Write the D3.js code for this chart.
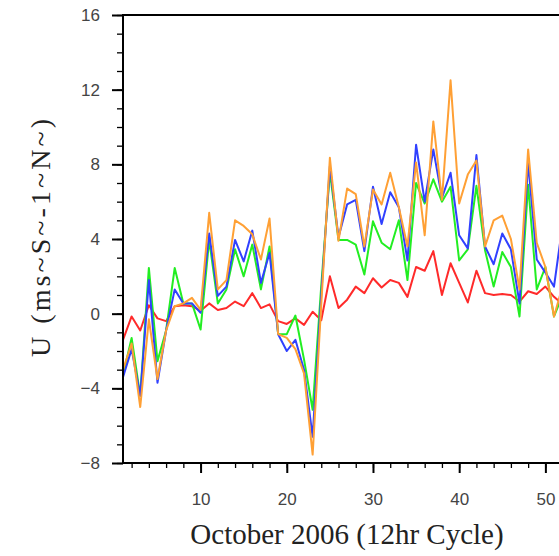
<!DOCTYPE html>
<html>
<head>
<meta charset="utf-8">
<script src="https://cdn.jsdelivr.net/npm/d3@7"></script>
<style>
  body { margin: 0; background: #fff; }
  .tick text { font-family: "Liberation Sans", Arial, sans-serif; fill: #444; }
</style>
</head>
<body>
<div id="chart"></div>
<script>
// time step (12hr cycle index)
var steps = d3.range(1, 53);

var redU = [-1.4, -0.15, -0.9, 0.45, -0.25, -0.4, 0.4, 0.45, 0.4, 0.15,
  0.55, 0.2, 0.3, 0.65, 0.4, 1.1, 0.3, 0.5, -0.4, -0.55,
  -0.25, -0.6, 0.1, -0.35, 2.0, 0.3, 0.75, 1.45, 1.1, 1.9,
  1.4, 1.8, 1.65, 0.9, 2.5, 2.3, 3.35, 1.0, 2.7, 1.65,
  0.6, 2.3, 1.1, 1.0, 1.05, 1.0, 0.65, 1.2, 1.05, 1.45,
  0.9, 0.5];

var greenU = [-3.3, -1.3, -4.4, 2.45, -2.55, -0.9, 2.45, 0.55, 0.55, -0.85,
  3.95, 0.55, 1.3, 3.45, 2.0, 3.7, 1.3, 3.6, -1.1, -1.1,
  -0.1, -2.45, -5.15, 1.5, 7.6, 3.95, 3.95, 3.7, 2.1, 4.95,
  3.8, 3.45, 5.0, 1.8, 7.0, 5.9, 7.2, 6.0, 6.8, 2.85,
  3.45, 6.85, 3.4, 1.45, 3.3, 2.5, -0.15, 6.9, 1.3, 2.5,
  -0.15, 1.0];

var blueU = [-3.4, -1.9, -4.4, 1.8, -3.7, -0.9, 1.3, 0.55, 0.55, 0.05,
  4.3, 0.95, 1.45, 3.95, 2.8, 4.45, 1.65, 3.25, -1.1, -2.0,
  -1.4, -3.0, -6.6, 1.0, 7.9, 4.1, 5.85, 6.1, 3.35, 6.8,
  4.8, 6.5, 5.7, 2.85, 9.05, 6.0, 8.8, 6.2, 7.55, 4.2,
  3.5, 8.5, 3.6, 2.65, 4.3, 3.45, 0.55, 8.1, 2.9, 2.2,
  1.45, 4.8];

var orangeU = [-3.0, -1.6, -5.0, -0.3, -3.5, -0.9, 0.4, 0.55, 0.85, 0.2,
  5.4, 1.3, 1.8, 5.0, 4.7, 4.25, 2.9, 5.1, -1.1, -1.3,
  -1.9, -3.2, -7.55, 0.5, 8.35, 3.9, 6.7, 6.4, 3.6, 6.65,
  5.85, 7.55, 5.7, 3.6, 8.1, 4.2, 10.3, 6.1, 12.5, 5.9,
  7.45, 8.2, 3.6, 5.0, 5.25, 4.0, 1.3, 8.8, 3.8, 2.5,
  -0.15, 1.5];

var seriesNames = ["red", "green", "blue", "orange"];
var seriesColors = ["#ff2a2a", "#22ee22", "#3040ff", "#ffa035"];
var yTicks = [-8, -4, 0, 4, 8, 12, 16];
var xTicks = [10, 20, 30, 40, 50, 60];

// set the dimensions and margins of the graph
var W = 559, H = 556;
var margin = {top: 15, left: 123},
    width = 61 * 8.62,
    height = 448;

var svg = d3.select("#chart")
  .append("svg")
  .attr("width", W)
  .attr("height", H)
  .append("g")
  .attr("transform", "translate(" + margin.left + "," + margin.top + ")");

var x = d3.scaleLinear().domain([1, 62]).range([0, width]);
var y = d3.scaleLinear().domain([-8, 16]).range([height, 0]);

// clip for the lines
svg.append("clipPath").attr("id", "clip")
  .append("rect").attr("width", width).attr("height", height);

// minor ticks
svg.append("g")
  .call(d3.axisLeft(y).tickValues(d3.range(-8, 17, 1)).tickSize(6).tickFormat(""))
  .call(function(g){ g.select(".domain").remove(); })
  .selectAll("line").attr("stroke", "#000").attr("stroke-width", 1.3);
svg.append("g")
  .attr("transform", "translate(0," + height + ")")
  .call(d3.axisBottom(x).tickValues(d3.range(2, 62, 2)).tickSize(5).tickFormat(""))
  .call(function(g){ g.select(".domain").remove(); })
  .selectAll("line").attr("stroke", "#000").attr("stroke-width", 1.3);

// major ticks + labels
var yAxis = svg.append("g")
  .call(d3.axisLeft(y).tickValues(yTicks).tickSize(11).tickPadding(12))
  .call(function(g){ g.select(".domain").remove(); });
yAxis.selectAll("line").attr("stroke", "#000").attr("stroke-width", 2);
yAxis.selectAll("text").style("font-size", "17px");

var xAxis = svg.append("g")
  .attr("transform", "translate(0," + height + ")")
  .call(d3.axisBottom(x).tickValues(xTicks).tickSize(10).tickPadding(20))
  .call(function(g){ g.select(".domain").remove(); });
xAxis.selectAll("line").attr("stroke", "#000").attr("stroke-width", 2);
xAxis.selectAll("text").style("font-size", "17px");

// lines
var allData = [redU, greenU, blueU, orangeU];
var line = d3.line()
  .x(function(d, i) { return x(steps[i]); })
  .y(function(d) { return y(d); });

svg.append("g").attr("clip-path", "url(#clip)")
  .selectAll("path")
  .data(allData)
  .enter()
  .append("path")
    .attr("class", function(d, i) { return "line " + seriesNames[i]; })
    .attr("fill", "none")
    .attr("stroke", function(d, i) { return seriesColors[i]; })
    .attr("stroke-width", 2)
    .attr("stroke-linejoin", "round")
    .attr("d", line);

// frame
svg.append("rect")
  .attr("width", width)
  .attr("height", height)
  .attr("fill", "none")
  .attr("stroke", "#000")
  .attr("stroke-width", 2);

// axis titles
svg.append("text")
  .attr("text-anchor", "middle")
  .attr("x", 347 - margin.left)
  .attr("y", 544 - margin.top)
  .style("font-family", "'Liberation Serif', 'Times New Roman', serif")
  .style("font-size", "29px")
  .style("fill", "#222")
  .text("October 2006 (12hr Cycle)");

svg.append("text")
  .attr("text-anchor", "middle")
  .attr("transform", "translate(" + (50 - margin.left) + "," + (238 - margin.top) + ") rotate(-90)")
  .attr("textLength", 238)
  .attr("lengthAdjust", "spacing")
  .style("font-family", "'Liberation Serif', 'Times New Roman', serif")
  .style("font-size", "28px")
  .style("fill", "#222")
  .text("U (ms~S~-1~N~)");
</script>
</body>
</html>
